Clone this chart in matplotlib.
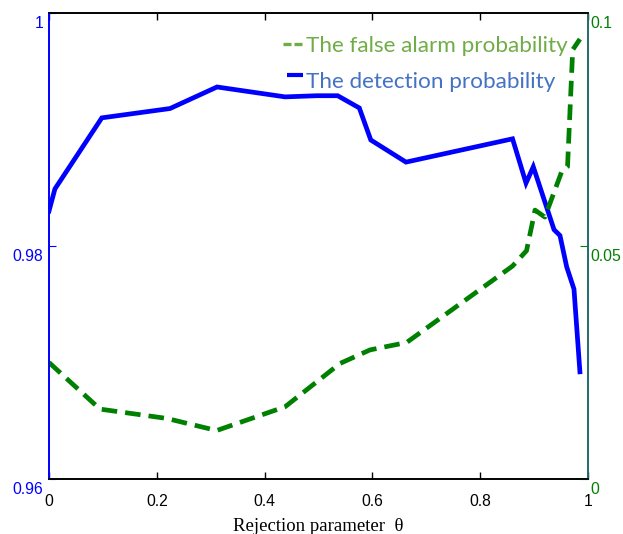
import matplotlib
matplotlib.use("Agg")
import matplotlib.pyplot as plt
from matplotlib.lines import Line2D
from matplotlib.transforms import ScaledTranslation

# Data
theta_det = [0.000, 0.011, 0.098, 0.2245, 0.3117, 0.438, 0.497, 0.5356, 0.5757, 0.597,
             0.6623, 0.860, 0.885, 0.8985, 0.937, 0.948, 0.9605, 0.974, 0.985]
p_det = [0.9830, 0.9849, 0.9910, 0.9918, 0.99365, 0.9928, 0.9929, 0.9929, 0.99185, 0.9891,
         0.9872, 0.9892, 0.9854, 0.9868, 0.9814, 0.9809, 0.9782, 0.9763, 0.9692]

theta_fa = [0.000, 0.0946, 0.2183, 0.311, 0.438, 0.540, 0.5955, 0.6636, 0.860, 0.886,
            0.9017, 0.920, 0.951, 0.962, 0.9716, 0.985]
p_fa = [0.0250, 0.0150, 0.0130, 0.0104, 0.0155, 0.0248, 0.0277, 0.0293, 0.0457, 0.0490,
        0.0577, 0.0562, 0.0659, 0.0670, 0.0921, 0.0944]

x_ticks = [0, 0.2, 0.4, 0.6, 0.8, 1]
x_ticklabels = ["0", "0.2", "0.4", "0.6", "0.8", "1"]
left_ticks = [0.96, 0.98, 1.0]
left_ticklabels = ["0.96", "0.98", "1"]
right_ticks = [0, 0.05, 0.1]
right_ticklabels = ["0", "0.05", "0.1"]

BLUE = "#0000FF"
GREEN = "#008000"

fig = plt.figure(figsize=(6.23, 5.34), dpi=100)
ax = fig.add_axes([49/623, 55/534, (588-49)/623, (479-13)/534])
ax2 = ax.twinx()

ax.plot(theta_det, p_det, color=BLUE, lw=3.4, solid_joinstyle="miter")
ax2.plot(theta_fa, p_fa, color=GREEN, lw=3.4, dashes=(3.3, 1.7))

ax.set_xlim(0, 1)
ax.set_ylim(0.96, 1.0)
ax2.set_ylim(0, 0.1)

tick_font = dict(family="Liberation Sans", size=11.3)
ax.set_xticks(x_ticks)
ax.set_xticklabels(x_ticklabels, fontdict=tick_font)
ax.set_yticks(left_ticks)
ax.set_yticklabels(left_ticklabels, fontdict=tick_font, color=BLUE)
ax2.set_yticks(right_ticks)
ax2.set_yticklabels(right_ticklabels, fontdict=tick_font, color=GREEN)

ax.tick_params(axis="x", direction="in", length=5, top=True, pad=10.5, width=1)
ax.tick_params(axis="y", direction="in", length=5, pad=4, colors=BLUE, labelcolor=BLUE)
ax2.tick_params(axis="y", direction="in", length=6, pad=2, colors=GREEN, labelcolor=GREEN)

off = ScaledTranslation(0, -9/100, fig.dpi_scale_trans)
for lab in ax.get_yticklabels():
    lab.set_transform(lab.get_transform() + off)
for lab in ax2.get_yticklabels():
    lab.set_transform(lab.get_transform() + off)

for a in (ax, ax2):
    a.spines["top"].set_color("black")
    a.spines["bottom"].set_color("black")
    a.spines["left"].set_color(BLUE)
    a.spines["right"].set_color("#236b6b")
    for s in a.spines.values():
        s.set_linewidth(1.2)

ax.set_xlabel("Rejection parameter  θ", family="Liberation Serif", size=13.5, labelpad=6.5)

# Legend-like annotations
ax.add_line(Line2D([0.434, 0.449], [0.9335, 0.9335], transform=ax.transAxes,
                   color="#70AD47", lw=2.4, solid_capstyle="butt"))
ax.add_line(Line2D([0.455, 0.469], [0.9335, 0.9335], transform=ax.transAxes,
                   color="#70AD47", lw=2.4, solid_capstyle="butt"))
ax.text(0.4768, 0.9167, "The false alarm probability", transform=ax.transAxes,
        family="Lato", size=16.2, color="#70AD47", va="baseline", ha="left")
ax.add_line(Line2D([0.4416, 0.4712], [0.867, 0.867], transform=ax.transAxes,
                   color=BLUE, lw=3, solid_capstyle="butt"))
ax.text(0.4768, 0.839, "The detection probability", transform=ax.transAxes,
        family="Lato", size=16.2, color="#4472C4", va="baseline", ha="left")

fig.savefig("out.png", dpi=100)
